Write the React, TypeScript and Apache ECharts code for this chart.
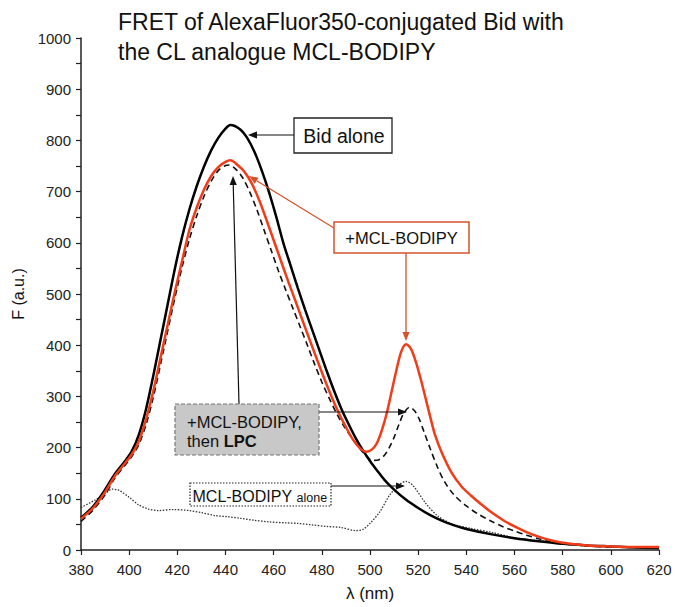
import React, { useEffect, useRef } from "react";
import * as echarts from "echarts";

// ---- data (wavelength nm, fluorescence a.u.) ----
const bidAloneX = [380, 385, 390, 394, 398, 401, 404, 407, 410, 413, 416, 419, 422, 425, 428, 431, 434, 437, 440, 442, 446, 449, 452, 455, 458, 461, 464, 467, 470, 473, 476, 479, 482, 485, 488, 491, 494, 497, 500, 503, 506, 510, 515, 520, 525, 530, 535, 540, 550, 560, 570, 580, 590, 600, 610, 620];
const bidAloneY = [63, 85, 118, 148, 172, 192, 225, 275, 340, 410, 480, 550, 612, 665, 710, 748, 780, 805, 823, 830, 822, 805, 778, 742, 700, 652, 600, 556, 512, 470, 430, 390, 350, 312, 277, 247, 219, 195, 174, 155, 137, 118, 98, 82, 68, 57, 48, 41, 31, 23, 17, 12, 9, 7, 5, 4];

const mclBodipyX = [380, 385, 390, 394, 398, 401, 404, 407, 410, 413, 416, 419, 422, 425, 428, 431, 434, 437, 440, 442, 445, 448, 451, 454, 457, 460, 463, 466, 469, 472, 475, 478, 481, 484, 487, 490, 493, 496, 498.5, 501, 503, 505, 507, 509, 511, 513, 515, 517, 519, 521, 523, 525, 527, 530, 534, 538, 542, 546, 550, 555, 560, 565, 570, 575, 580, 590, 600, 610, 620];
const mclBodipyY = [61, 82, 113, 144, 168, 186, 212, 255, 310, 375, 440, 505, 565, 625, 668, 703, 730, 748, 758, 761, 752, 738, 715, 683, 645, 605, 565, 525, 487, 448, 410, 372, 335, 300, 268, 240, 215, 198, 192, 197, 210, 235, 268, 310, 352, 388, 402, 393, 368, 335, 298, 260, 225, 188, 150, 124, 106, 90, 75, 59, 46, 35, 26, 19, 14, 9, 7, 6, 6];

const lpcX = [380, 385, 390, 394, 398, 401, 404, 407, 410, 413, 416, 419, 422, 425, 428, 431, 434, 437, 440, 441.5, 444, 447, 450, 453, 456, 459, 462, 465, 468, 471, 474, 477, 480, 483, 486, 489, 492, 495, 498, 501, 503.5, 506, 508, 510, 512, 514, 516.5, 518.5, 520.5, 522.5, 525, 528, 531, 535, 540, 545, 550, 555, 560, 565, 570, 575, 580, 590, 600, 610, 620];
const lpcY = [56, 78, 108, 140, 164, 182, 206, 245, 298, 362, 428, 493, 553, 607, 652, 690, 720, 741, 751, 752, 745, 728, 700, 665, 625, 585, 545, 508, 472, 436, 400, 363, 328, 297, 268, 243, 222, 203, 186, 175, 176, 185, 200, 220, 245, 267, 279, 272, 255, 230, 198, 162, 133, 107, 86, 70, 57, 46, 37, 29, 22, 16, 12, 8, 6, 5, 5];

const aloneX = [380, 386, 390, 393, 396, 400, 404, 408, 412, 418, 425, 430, 436, 441, 446, 452, 458, 465, 470, 476, 482, 488, 494, 497, 500, 504, 508, 512, 515, 518, 523, 528, 534, 542, 551, 560, 572, 580, 590, 600, 610, 620];
const aloneY = [83, 98, 110, 119, 116, 103, 88, 80, 77, 79, 77, 73, 67, 65, 62, 58, 55, 53, 52, 49, 46, 44, 38, 40, 52, 74, 106, 127, 134, 125, 92, 67, 51, 42, 34, 24, 17, 12, 8, 6, 5, 4];

const xTicks = { min: 380, max: 620, step: 20 };
const yTicks = { min: 0, max: 1000, step: 100 };

const titleLines = ["FRET of AlexaFluor350-conjugated Bid with", "the CL analogue MCL-BODIPY"];

const FONT = "'Liberation Sans', Arial, Helvetica, sans-serif";
const ORANGE_LINE = "#d4532c";
const RED = "#f23c18";

function zip(xs: number[], ys: number[]) {
  return xs.map((x, i) => [x, ys[i]]);
}

function arrow(x1: number, y1: number, x2: number, y2: number, color: string, lw = 1.2, hl = 9, hw = 3.6) {
  const dx = x2 - x1, dy = y2 - y1;
  const L = Math.hypot(dx, dy);
  const ux = dx / L, uy = dy / L;
  const bx = x2 - ux * hl, by = y2 - uy * hl;
  const px = -uy * hw, py = ux * hw;
  return [
    { type: "line", z: 100, shape: { x1, y1, x2: bx, y2: by }, style: { stroke: color, lineWidth: lw } },
    { type: "polygon", z: 100, shape: { points: [[x2, y2], [bx + px, by + py], [bx - px, by - py]] }, style: { fill: color } },
  ];
}

export default function App() {
  const ref = useRef<HTMLDivElement>(null);
  useEffect(() => {
    if (!ref.current) return;
    const chart = echarts.init(ref.current, null, { renderer: "svg" });
    const graphic: any[] = [
      {
        type: "text", z: 100, x: 118, y: 22,
        style: { text: titleLines[0], font: `23px ${FONT}`, fill: "#111", verticalAlign: "middle" },
      },
      {
        type: "text", z: 100, x: 118, y: 52,
        style: { text: titleLines[1], font: `23px ${FONT}`, fill: "#111", verticalAlign: "middle" },
      },
      // Bid alone box
      ...arrow(294, 135, 248, 135, "#111"),
      { type: "rect", z: 100, shape: { x: 294, y: 118, width: 98, height: 35 }, style: { fill: "#fff", stroke: "#222", lineWidth: 1.3 } },
      { type: "text", z: 101, x: 344, y: 135.5, style: { text: "Bid alone", font: `19.5px ${FONT}`, fill: "#111", align: "center", verticalAlign: "middle" } },
      // +MCL-BODIPY box
      ...arrow(334, 228, 249, 176, ORANGE_LINE, 1.3),
      ...arrow(406, 253, 406, 341, ORANGE_LINE, 1.3),
      { type: "rect", z: 100, shape: { x: 334, y: 222, width: 135, height: 31 }, style: { fill: "#fff", stroke: ORANGE_LINE, lineWidth: 1.5 } },
      { type: "text", z: 101, x: 401.5, y: 238, style: { text: "+MCL-BODIPY", font: `16.5px ${FONT}`, fill: "#111", align: "center", verticalAlign: "middle" } },
      // +MCL-BODIPY, then LPC box
      ...arrow(239, 404, 233, 176, "#111"),
      ...arrow(319, 412, 407, 412, "#111"),
      { type: "rect", z: 100, shape: { x: 175, y: 404, width: 144, height: 51 }, style: { fill: "#c8c8c8", stroke: "#777", lineWidth: 1.2, lineDash: [4, 2] } },
      { type: "text", z: 101, x: 187, y: 421.5, style: { text: "+MCL-BODIPY,", font: `16.5px ${FONT}`, fill: "#111", verticalAlign: "middle" } },
      {
        type: "text", z: 101, x: 187, y: 440.5,
        style: {
          text: "{a|then }{b|LPC}", verticalAlign: "middle", fill: "#111",
          rich: {
            a: { fontFamily: FONT, fontSize: 16.5, fill: "#111" },
            b: { fontFamily: FONT, fontSize: 16.5, fontWeight: "bold", fill: "#111" },
          },
        },
      },
      // MCL-BODIPY alone box
      ...arrow(331, 486, 405, 486, "#111"),
      { type: "rect", z: 100, shape: { x: 190, y: 483, width: 141, height: 23 }, style: { fill: "#fff", stroke: "#222", lineWidth: 1.2, lineDash: [1.5, 1.5] } },
      {
        type: "text", z: 101, x: 192.5, y: 495,
        style: {
          text: "{a|MCL-BODIPY }{b|alone}", verticalAlign: "middle", fill: "#111",
          rich: {
            a: { fontFamily: FONT, fontSize: 16, fill: "#111", verticalAlign: "bottom", lineHeight: 18 },
            b: { fontFamily: FONT, fontSize: 12.5, fill: "#111", verticalAlign: "bottom", lineHeight: 16 },
          },
        },
      },
    ];

    chart.setOption({
      animation: false,
      backgroundColor: "#fff",
      textStyle: { fontFamily: FONT },
      grid: { left: 81, top: 38, width: 578, height: 524, containLabel: false },
      xAxis: {
        type: "value", min: xTicks.min, max: xTicks.max, interval: xTicks.step,
        name: "λ (nm)", nameLocation: "middle", nameGap: 35,
        nameTextStyle: { fontSize: 17, color: "#111", fontFamily: FONT },
        axisLine: { show: true, onZero: false, lineStyle: { color: "#222", width: 1.5 } },
        axisTick: { show: true, length: 5, lineStyle: { color: "#222", width: 1.2 } },
        axisLabel: { fontSize: 15, color: "#222", margin: 12, fontFamily: FONT },
        splitLine: { show: false },
      },
      yAxis: {
        type: "value", min: yTicks.min, max: yTicks.max, interval: yTicks.step,
        name: "F (a.u.)", nameLocation: "middle", nameGap: 55,
        nameTextStyle: { fontSize: 16, color: "#111", fontFamily: FONT },
        axisLine: { show: true, lineStyle: { color: "#222", width: 1.5 } },
        axisTick: { show: true, length: 5, lineStyle: { color: "#222", width: 1.2 } },
        minorTick: { show: true, splitNumber: 2, length: 5, lineStyle: { color: "#222", width: 1.2 } },
        axisLabel: { fontSize: 15, color: "#222", margin: 10, fontFamily: FONT, formatter: (v: number) => String(v) },
        splitLine: { show: false },
      },
      series: [
        {
          name: "MCL-BODIPY alone", type: "line", data: zip(aloneX, aloneY), smooth: 0.3, showSymbol: false,
          lineStyle: { color: "#333", width: 1.3, type: [1.5, 1.5] }, z: 2,
        },
        {
          name: "+MCL-BODIPY, then LPC", type: "line", data: zip(lpcX, lpcY), smooth: 0.3, showSymbol: false,
          lineStyle: { color: "#111", width: 1.6, type: [6, 4] }, z: 3,
        },
        {
          name: "Bid alone", type: "line", data: zip(bidAloneX, bidAloneY), smooth: 0.3, showSymbol: false,
          lineStyle: { color: "#000", width: 2.5 }, z: 4,
        },
        {
          name: "+MCL-BODIPY", type: "line", data: zip(mclBodipyX, mclBodipyY), smooth: 0.3, showSymbol: false,
          lineStyle: { color: RED, width: 2.5 }, z: 5,
        },
      ],
      graphic,
    });
    return () => chart.dispose();
  }, []);
  return <div ref={ref} style={{ position: "fixed", left: 0, top: 0, width: 678, height: 607, background: "#fff" }} />;
}
